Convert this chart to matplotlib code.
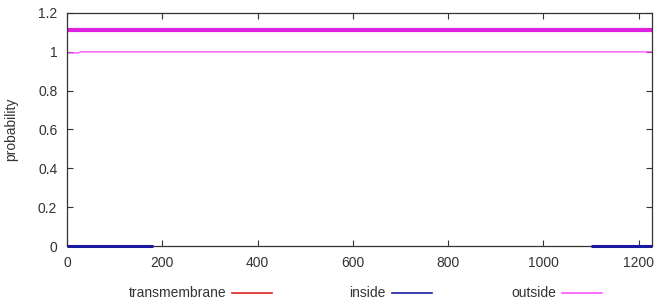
import matplotlib
matplotlib.use('Agg')
import matplotlib.pyplot as plt

# values
seq_len = 1228
outside_x = [1, 22, 30, seq_len]
outside_prob = [0.994, 0.994, 1.0, 1.0]
inside_x1 = [1, 181]
inside_x2 = [1100, seq_len]
inside_prob = [0.0, 0.0]
region_x = [1, seq_len]
region_y = [1.115, 1.115]

xticks = [0, 200, 400, 600, 800, 1000, 1200]
yticks = [0, 0.2, 0.4, 0.6, 0.8, 1, 1.2]
ytick_labels = ['0', '0.2', '0.4', '0.6', '0.8', '1', '1.2']

plt.rcParams['font.family'] = ['Liberation Sans', 'DejaVu Sans']
text_col = '#333333'

fig = plt.figure(figsize=(6.6, 3.02), dpi=100)
ax = fig.add_axes([67 / 660, 56 / 302, 585 / 660, 233 / 302])

ax.plot(region_x, region_y, color='#e020e0', lw=3, solid_capstyle='butt')
ax.plot(outside_x, outside_prob, color='#ff55ff', lw=1)
ax.plot(inside_x1, inside_prob, color='#1a1aa0', lw=2.2, solid_capstyle='butt',
        clip_on=False, zorder=5)
ax.plot(inside_x2, inside_prob, color='#1a1aa0', lw=2.2, solid_capstyle='butt',
        clip_on=False, zorder=5)

ax.set_xlim(0, seq_len)
ax.set_ylim(0, 1.2)
ax.set_xticks(xticks)
ax.set_yticks(yticks)
ax.set_yticklabels(ytick_labels)
ax.tick_params(direction='in', length=4, width=0.8, top=True, right=True,
               labelsize=10, colors='#333333', pad=7)
for tl in ax.get_xticklabels() + ax.get_yticklabels():
    tl.set_color(text_col)
for sp in ax.spines.values():
    sp.set_linewidth(0.9)
    sp.set_color('#333333')

ax.set_ylabel('probability', fontsize=10, color=text_col, labelpad=14)

# legend row under the plot
legend_items = ['transmembrane', 'inside', 'outside']
legend_colors = ['#e02020', '#1a1aa0', '#ff55ff']
text_right = [226 / 660, 386 / 660, 556 / 660]
for name, col, xr in zip(legend_items, legend_colors, text_right):
    fig.text(xr, 9 / 302, name, ha='right', va='center', fontsize=10, color=text_col)
    fig.add_artist(plt.Line2D([xr + 6 / 660, xr + 46 / 660], [9 / 302, 9 / 302],
                              color=col, lw=1.2, transform=fig.transFigure))

fig.savefig('out.png', dpi=100)
